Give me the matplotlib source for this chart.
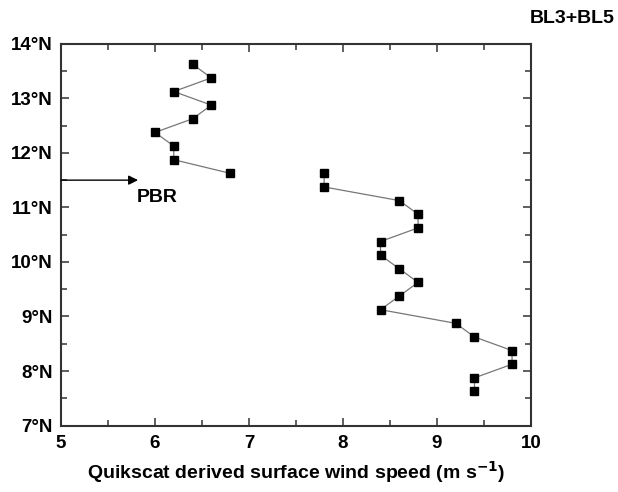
import matplotlib
matplotlib.use("Agg")
import matplotlib.pyplot as plt
from matplotlib.ticker import MultipleLocator, FuncFormatter

plt.rcParams['font.family'] = ['Liberation Sans', 'DejaVu Sans']
plt.rcParams['font.weight'] = 'bold'

# northern segment (above PBR)
lat_north   = [13.625, 13.375, 13.125, 12.875, 12.625, 12.375, 12.125, 11.875, 11.625]
speed_north = [6.4, 6.6, 6.2, 6.6, 6.4, 6.0, 6.2, 6.2, 6.8]

# southern segment
lat_south   = [11.625, 11.375, 11.125, 10.875, 10.625, 10.375, 10.125, 9.875, 9.625,
               9.375, 9.125, 8.875, 8.625, 8.375, 8.125, 7.875, 7.625]
speed_south = [7.8, 7.8, 8.6, 8.8, 8.8, 8.4, 8.4, 8.6, 8.8,
               8.6, 8.4, 9.2, 9.4, 9.8, 9.8, 9.4, 9.4]

pbr_lat = 11.5
pbr_tip = 5.82

fig = plt.figure(figsize=(6.18, 4.92), dpi=100)
ax = fig.add_axes([0.0987, 0.135, 0.7603, 0.776])

for xs, ys in [(speed_north, lat_north), (speed_south, lat_south)]:
  ax.plot(xs, ys, color='#777777', lw=0.9, marker='s', ms=6,
          mfc='black', mec='black', zorder=3)

ax.set_xlim(5, 10)
ax.set_ylim(7, 14)
ax.xaxis.set_major_locator(MultipleLocator(1))
ax.xaxis.set_minor_locator(MultipleLocator(0.5))
ax.yaxis.set_major_locator(MultipleLocator(1))
ax.yaxis.set_minor_locator(MultipleLocator(0.5))
ax.yaxis.set_major_formatter(FuncFormatter(lambda v, p: "%d°N" % v))
ax.tick_params(which='both', direction='in', top=True, right=True, width=1.1, color='#333333')
ax.tick_params(which='major', length=6, labelsize=13.5)
ax.tick_params(which='minor', length=4)
ax.tick_params(axis='x', which='major', pad=7)
ax.tick_params(axis='y', which='major', pad=6)
for lab in ax.get_xticklabels() + ax.get_yticklabels():
  lab.set_fontweight('bold')
for s in ax.spines.values():
  s.set_linewidth(1.5)
  s.set_color('#333333')

ax.set_xlabel("Quikscat derived surface wind speed (m s$^{\\mathbf{-1}}$)",
              fontsize=14, fontweight='bold', labelpad=5)

# PBR arrow
ax.annotate("", xy=(pbr_tip, pbr_lat), xytext=(5.0, pbr_lat),
            arrowprops=dict(arrowstyle='-|>', color='black', lw=1.0,
                            mutation_scale=14, shrinkA=0, shrinkB=0))
ax.text(5.81, 11.1, "PBR", fontsize=14, fontweight='bold', va='baseline')

fig.text(0.995, 0.962, "BL3+BL5", fontsize=14, fontweight='bold', ha='right', va='center')

fig.savefig("out.png", dpi=100)
